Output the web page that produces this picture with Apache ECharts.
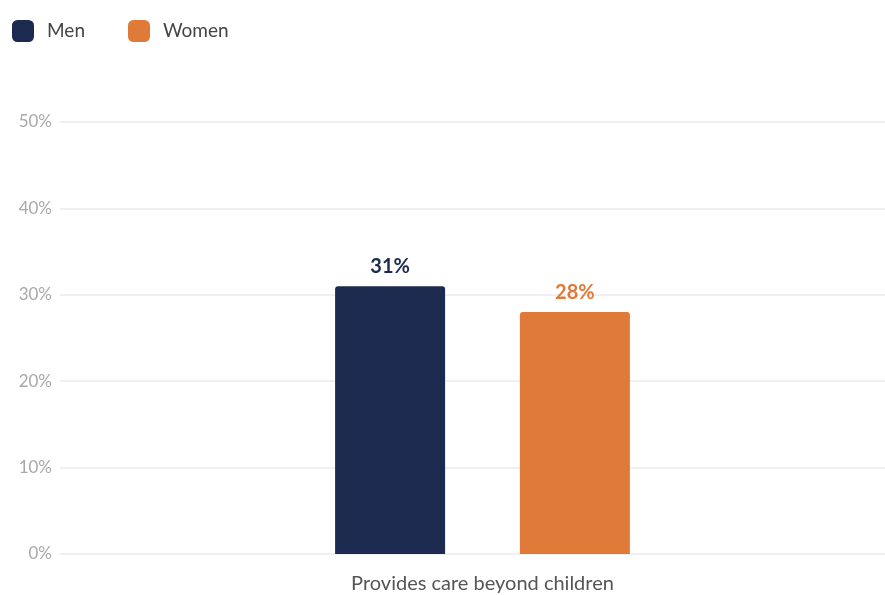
<!DOCTYPE html>
<html>
<head>
<meta charset="utf-8">
<script src="https://cdn.jsdelivr.net/npm/echarts@6/dist/echarts.min.js"></script>
<style>
  html, body { margin: 0; padding: 0; background: #ffffff; }
  #chart { width: 885px; height: 595px; }
</style>
</head>
<body>
<div id="chart"></div>
<script>
// Share providing care beyond children, by gender (percent)
const categories = ['Provides care beyond children'];
const menValues = [31];
const womenValues = [28];
const yTicks = [0, 10, 20, 30, 40, 50];

const NAVY = '#1b2a4e';
const ORANGE = '#e07a38';
const FONT = 'Lato, "Noto Sans", sans-serif';

const chart = echarts.init(document.getElementById('chart'), null, { renderer: 'canvas' });

chart.setOption({
  backgroundColor: '#ffffff',
  animation: false,
  textStyle: { fontFamily: FONT },
  legend: {
    left: 7,
    top: 15,
    itemWidth: 22,
    itemHeight: 22,
    itemGap: 43,
    icon: 'roundRect',
    textStyle: { fontSize: 19, color: '#444', fontFamily: FONT, padding: [0, 0, 0, 8] },
    data: ['Men', 'Women']
  },
  grid: {
    left: 60, right: -20, top: 122, bottom: 41,
    containLabel: false,
    outerBoundsMode: 'none'
  },
  xAxis: {
    type: 'category',
    data: categories,
    axisTick: { show: false },
    axisLine: { show: false },
    axisLabel: { fontSize: 20, color: '#555', margin: 20, fontFamily: FONT }
  },
  yAxis: {
    type: 'value',
    min: yTicks[0],
    max: yTicks[yTicks.length - 1],
    interval: 10,
    axisLine: { show: false },
    axisTick: { show: false },
    axisLabel: { formatter: '{value}%', fontSize: 17, color: '#a8a8a8', margin: 8, fontFamily: FONT },
    splitLine: { lineStyle: { color: '#ebebeb', width: 1.5 } }
  },
  series: [
    {
      name: 'Men',
      type: 'bar',
      data: menValues,
      barWidth: 110,
      barGap: '68%',
      itemStyle: { color: NAVY, borderRadius: [3, 3, 0, 0] },
      label: {
        show: true, position: 'top', distance: 10,
        formatter: '{c}%', fontSize: 20, fontWeight: 'bold', color: NAVY, fontFamily: FONT
      }
    },
    {
      name: 'Women',
      type: 'bar',
      data: womenValues,
      barWidth: 110,
      itemStyle: { color: ORANGE, borderRadius: [3, 3, 0, 0] },
      label: {
        show: true, position: 'top', distance: 10,
        formatter: '{c}%', fontSize: 20, fontWeight: 'bold', color: ORANGE, fontFamily: FONT
      }
    }
  ]
});
</script>
</body>
</html>
